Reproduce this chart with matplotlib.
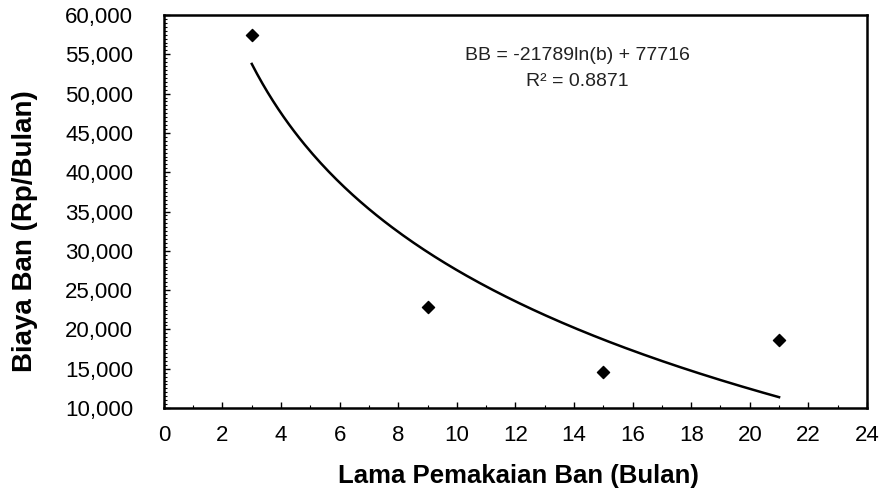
import numpy as np
import matplotlib.pyplot as plt
from matplotlib.ticker import MultipleLocator, FuncFormatter

# data
lama_bulan = [3, 9, 15, 21]
biaya_ban = [57500, 22900, 14600, 18600]

# log trendline given on the chart
koef_a = -21789
koef_b = 77716
persamaan = "BB = -21789ln(b) + 77716"
r_kuadrat = "R² = 0.8871"

plt.rcParams['font.family'] = ['Liberation Sans', 'DejaVu Sans']

fig = plt.figure(figsize=(8.86, 4.96), dpi=100)
ax = fig.add_axes([0.185, 0.1774, 0.7935, 0.7923])

# garis tren
xt = np.linspace(min(lama_bulan), max(lama_bulan), 200)
ax.plot(xt, koef_a * np.log(xt) + koef_b, color='black', lw=1.8)

# titik data
ax.scatter(lama_bulan, biaya_ban, marker='D', s=38, color='black', zorder=3)

ax.set_xlim(0, 24)
ax.set_ylim(10000, 60000)
ax.xaxis.set_major_locator(MultipleLocator(2))
ax.xaxis.set_minor_locator(MultipleLocator(1))
ax.yaxis.set_major_locator(MultipleLocator(5000))
ax.yaxis.set_minor_locator(MultipleLocator(500))
ax.yaxis.set_major_formatter(FuncFormatter(lambda v, p: f"{int(v):,}"))

ax.tick_params(which='both', direction='in', top=False, right=False)
ax.tick_params(which='major', length=4, width=1, labelsize=16)
ax.tick_params(which='minor', length=2.5, width=0.8)
ax.tick_params(axis='x', which='major', pad=12.5)
ax.tick_params(axis='y', which='major', pad=22)
for s in ax.spines.values():
    s.set_linewidth(1.8)

ax.set_xlabel("Lama Pemakaian Ban (Bulan)", fontsize=18.5, fontweight='bold')
ax.set_ylabel("Biaya Ban (Rp/Bulan)", fontsize=20, fontweight='bold')
ax.xaxis.label.set_verticalalignment('center')
ax.yaxis.label.set_verticalalignment('center')
ax.xaxis.set_label_coords(0.5036, -0.173)
ax.yaxis.set_label_coords(-0.198, 0.45)

ax.text(0.5875, 0.898, persamaan, transform=ax.transAxes, ha='center', va='center',
        fontsize=14, color='#222222')
ax.text(0.5875, 0.832, r_kuadrat, transform=ax.transAxes, ha='center', va='center',
        fontsize=14, color='#222222')

fig.savefig('out.png', dpi=100)
